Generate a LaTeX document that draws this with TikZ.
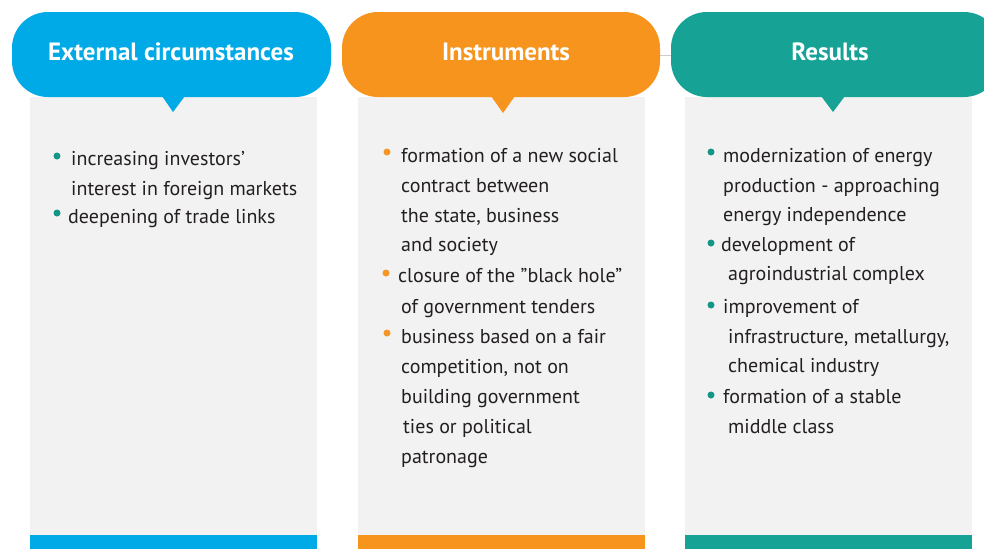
\documentclass[tikz,border=0pt]{standalone}
\usepackage{fontspec}
\setmainfont{PT Sans}
\definecolor{cblue}{RGB}{0,170,230}
\definecolor{corange}{RGB}{247,148,30}
\definecolor{cteal}{RGB}{22,163,150}
\definecolor{dotteal}{RGB}{20,150,135}
\definecolor{dotorange}{RGB}{245,150,40}
\definecolor{panel}{RGB}{242,242,242}
\definecolor{txt}{RGB}{35,31,32}
\tikzset{
  pill/.style={rounded corners=36pt},
  head/.style={text=white, font=\fontsize{25}{30}\selectfont\bfseries},
  item/.style={anchor=base west, text=txt, inner sep=0pt, font=\fontsize{20}{24}\selectfont},
  bul/.style={circle, inner sep=0pt, minimum size=7pt},
}
\begin{document}
\begin{tikzpicture}[x=1pt,y=-1pt]
\useasboundingbox (0,0) rectangle (984,549);
\fill[white] (0,0) rectangle (984,549);
% panels
\fill[panel] (30,97) rectangle (317,535);
\fill[panel] (358,97) rectangle (645,535);
\fill[panel] (685,97) rectangle (972,535);
\fill[cblue] (30,535) rectangle (317,549);
\fill[corange] (358,535) rectangle (645,549);
\fill[cteal] (685,535) rectangle (972,549);
% faint connector
\draw[black!20, line width=0.6pt] (655,55) -- (675,55);
% pills
\fill[cblue, pill] (12,12) rectangle (331,97);
\fill[cblue] (162,96) -- (185,96) -- (173,112) -- cycle;
\fill[corange, pill] (342,12) rectangle (660,97);
\fill[corange] (491,96) -- (515,96) -- (503,113) -- cycle;
\fill[cteal, pill] (671,12) rectangle (1000,97);
\fill[cteal] (821,96) -- (845,96) -- (833,112) -- cycle;
\node[head] (h1) at (171,52) {External circumstances};
\node[head] (h2) at (506,52) {Instruments};
\node[head] (h3) at (830,52) {Results};
% column 1
\node[bul, fill=dotteal] (b11) at (57,156) {};
\node[item] (t11) at (71,165) {increasing investors\char39};
\node[item] (t12) at (71,195) {interest in foreign markets};
\node[bul, fill=dotteal] (b12) at (57,213) {};
\node[item] (t13) at (68,223) {deepening of trade links};
% column 2
\node[bul, fill=dotorange] (b21) at (387,152) {};
\node[item] (t21) at (401,162) {formation of a new social};
\node[item] (t22) at (401,192) {contract between};
\node[item] (t23) at (401,222) {the state, business};
\node[item] (t24) at (401,251) {and society};
\node[bul, fill=dotorange] (b22) at (386,273) {};
\node[item] (t25) at (398,282) {closure of the \char34black hole\char34};
\node[item] (t26) at (401,313) {of government tenders};
\node[bul, fill=dotorange] (b23) at (387,333) {};
\node[item] (t27) at (401,343) {business based on a fair};
\node[item] (t28) at (401,373) {competition, not on};
\node[item] (t29) at (401,403) {building government};
\node[item] (t2a) at (403,433) {ties or political};
\node[item] (t2b) at (401,463) {patronage};
% column 3
\node[bul, fill=dotteal] (b31) at (711,152) {};
\node[item] (t31) at (723,162) {modernization of energy};
\node[item] (t32) at (723,192) {production - approaching};
\node[item] (t33) at (723,221) {energy independence};
\node[bul, fill=dotteal] (b32) at (711,243) {};
\node[item] (t34) at (721,251) {development of};
\node[item] (t35) at (728,280) {agroindustrial complex};
\node[bul, fill=dotteal] (b33) at (711,305) {};
\node[item] (t36) at (723,313) {improvement of};
\node[item] (t37) at (728,343) {infrastructure, metallurgy,};
\node[item] (t38) at (728,372) {chemical industry};
\node[bul, fill=dotteal] (b34) at (711,395) {};
\node[item] (t39) at (723,403) {formation of a stable};
\node[item] (t3a) at (728,433) {middle class};
\end{tikzpicture}
\end{document}
